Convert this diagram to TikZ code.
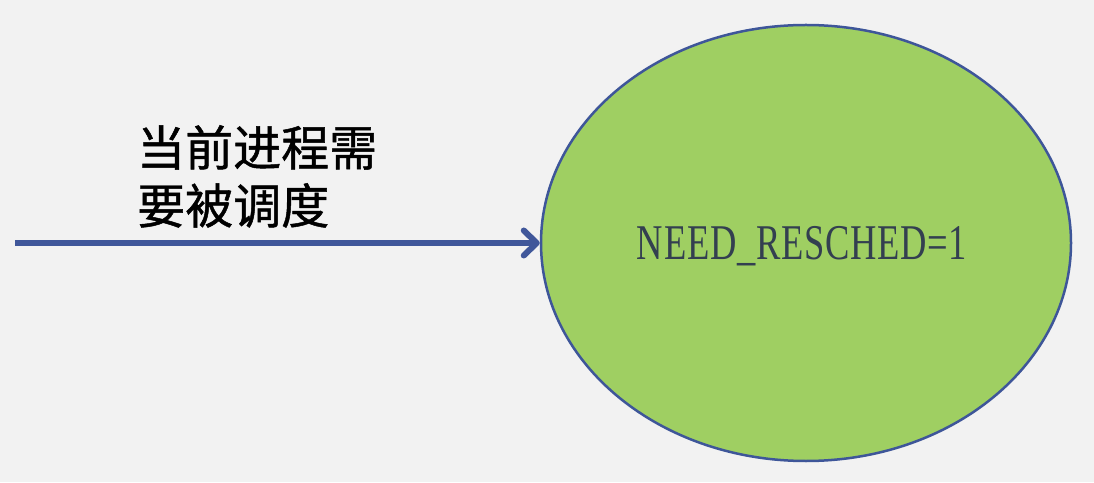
\documentclass[tikz,border=0pt]{standalone}
\usepackage{fontspec}
\usetikzlibrary{shapes.geometric,arrows.meta}
\newfontfamily\cjk[FakeBold=1]{Noto Sans CJK SC}
\newfontfamily\labfont{Liberation Serif}
\definecolor{bg}{HTML}{F2F2F2}
\definecolor{ellfill}{HTML}{9FCF62}
\definecolor{ellline}{HTML}{3E5699}
\definecolor{arrowblue}{HTML}{40579A}
\definecolor{labcol}{HTML}{333F50}
\tikzset{
  state/.style={ellipse, draw=ellline, line width=2.5pt, fill=ellfill,
    minimum width=530pt, minimum height=436pt, inner sep=0pt},
  flow/.style={draw=arrowblue, line width=6pt,
    -{Straight Barb[length=13pt,width=25pt,line cap=round,line join=round]}},
  captext/.style={font=\cjk\fontsize{48pt}{58pt}\selectfont, align=left,
    inner sep=0pt, anchor=north west, text=black},
  labeltext/.style={anchor=center, inner sep=0pt, text=labcol}
}
\begin{document}
\begin{tikzpicture}[x=1pt,y=1pt]
\fill[bg] (0,0) rectangle (1094,482);
\useasboundingbox (0,0) rectangle (1094,482);
\node[state] (st) at (806,239) {};
\node[labeltext] (lab) at (802,236) {\scalebox{0.73}[1]{\labfont\fontsize{50pt}{60pt}\selectfont N\kern1ptE\kern1ptE\kern1ptD\kern1pt\_\kern1ptR\kern1ptE\kern1ptS\kern1ptC\kern1ptH\kern1ptE\kern1ptD\kern1pt=\kern1pt1}};
\coordinate (start) at (15,239);
\draw[flow] (start) -- (st.west);
\node[captext] (lbl) at (137,357) {当前进程需\\要被调度};
\end{tikzpicture}
\end{document}
